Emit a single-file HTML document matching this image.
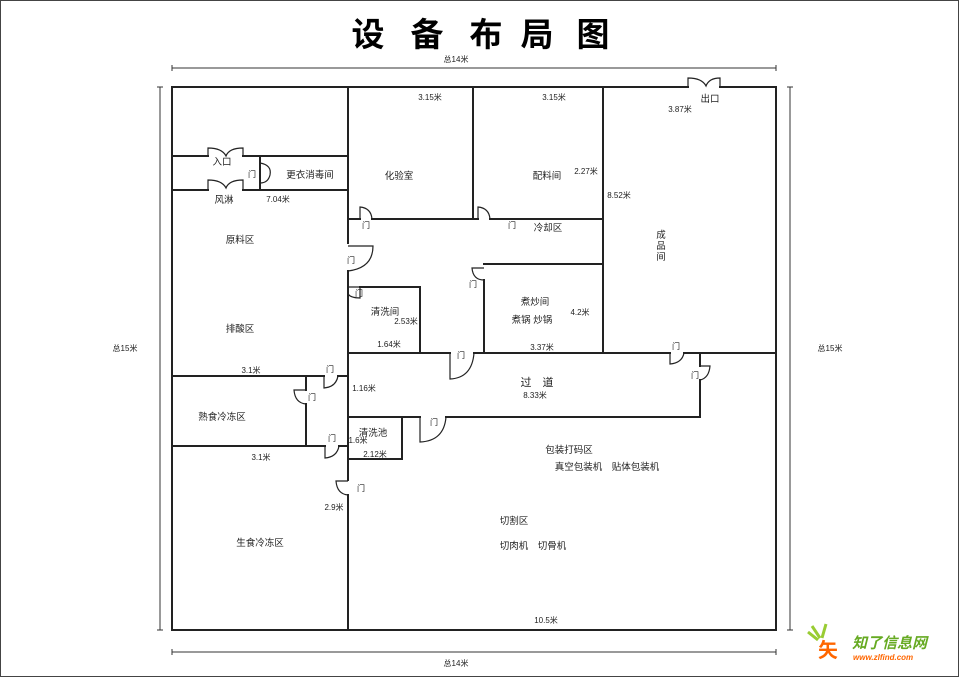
<!DOCTYPE html>
<html><head><meta charset="utf-8"><style>
html,body{margin:0;padding:0;background:#fff}
svg{display:block}
text{font-family:"Liberation Sans","Noto Sans CJK SC",sans-serif;fill:#222}
</style></head><body>
<svg width="960" height="678" viewBox="0 0 960 678" xmlns="http://www.w3.org/2000/svg">
<rect x="0.5" y="0.5" width="958" height="676" fill="#fff" stroke="#444" stroke-width="1"/>
<g font-size="33" font-weight="bold" text-anchor="middle" style="font-family:'Noto Sans CJK SC',sans-serif">
<text x="368" y="46" style="fill:#000">设</text><text x="427" y="46" style="fill:#000">备</text><text x="486" y="46" style="fill:#000">布</text><text x="537" y="46" style="fill:#000">局</text><text x="593" y="46" style="fill:#000">图</text>
</g>
<!-- dimension lines -->
<g stroke="#333" stroke-width="1" fill="none">
<line x1="172" y1="68" x2="776" y2="68"/><line x1="172" y1="65" x2="172" y2="71"/><line x1="776" y1="65" x2="776" y2="71"/>
<line x1="172" y1="652" x2="776" y2="652"/><line x1="172" y1="649" x2="172" y2="655"/><line x1="776" y1="649" x2="776" y2="655"/>
<line x1="160" y1="87" x2="160" y2="630"/><line x1="157" y1="87" x2="163" y2="87"/><line x1="157" y1="630" x2="163" y2="630"/>
<line x1="790" y1="87" x2="790" y2="630"/><line x1="787" y1="87" x2="793" y2="87"/><line x1="787" y1="630" x2="793" y2="630"/>
</g>
<g font-size="8" text-anchor="middle">
<text x="456" y="62">总14米</text><text x="456" y="666">总14米</text>
<text x="125" y="351">总15米</text><text x="830" y="351">总15米</text>
</g>
<!-- walls -->
<g stroke="#222" stroke-width="2" fill="none" stroke-linecap="square">
<path d="M172 87 H688 M720 87 H776 V630 H172 V87"/>
<path d="M172 156 H208 M243 156 H348 M172 190 H208 M243 190 H348 M260 156 V190"/>
<path d="M348 87 V243 M348 271 V353 M348 353 V480 M348 495 V630"/>
<path d="M172 376 H324 M338 376 H348 M306 376 V390 M306 404 V446 M172 446 H325 M339 446 H348"/>
<path d="M348 219 H360 M372 219 H478 M490 219 H603 M473 87 V219 M603 87 V353"/>
<path d="M360 287 H420 V353"/>
<path d="M484 264 H603 M484 280 V353"/>
<path d="M348 353 H450 M474 353 H670 M684 353 H776 M700 353 V366 M700 380 V417 H446 M420 417 H348"/>
<path d="M348 459 H402 V417"/>
</g>
<!-- doors -->
<g stroke="#222" stroke-width="1.2" fill="none">
<path d="M208 156 V148 Q222 148 226 156 Q229 148 243 148 V156"/>
<path d="M208 190 V180 Q222 180 226 188 Q229 180 243 180 V190"/>
<path d="M688 87 V78 Q702 78 706 86 Q709 78 720 78 V87"/>
<path d="M260 163 Q272 165 270 175 Q268 183 260 183"/>
<path d="M360 219 V207 Q371 208 372 219"/>
<path d="M478 219 V207 Q489 208 490 219"/>
<path d="M348 246 H373 Q373 268 348 271"/>
<path d="M360 287 H348 M360 287 V298 Q351 298 348 294"/>
<path d="M484 268 H472 Q473 280 484 280"/>
<path d="M450 353 V379 Q472 378 474 353"/>
<path d="M670 353 V364 Q682 363 684 353"/>
<path d="M700 366 H710 Q709 378 700 380"/>
<path d="M420 417 V442 Q444 441 446 417"/>
<path d="M324 376 V388 Q336 387 338 376"/>
<path d="M306 390 H294 Q295 403 306 404"/>
<path d="M325 446 V458 Q337 457 339 446"/>
<path d="M348 481 H336 Q337 494 348 495"/>
</g>
<!-- labels -->
<g font-size="9.5" text-anchor="middle">
<text x="222" y="165">入口</text><text x="310" y="178">更衣消毒间</text>
<text x="224" y="203">风淋</text>
<text x="399" y="179">化验室</text><text x="547" y="179">配料间</text>
<text x="240" y="243">原料区</text><text x="240" y="332">排酸区</text>
<text x="548" y="231">冷却区</text>
<text x="385" y="315">清洗间</text>
<text x="535" y="305">煮炒间</text><text x="532" y="323">煮锅 炒锅</text>
<text x="661" y="238">成</text><text x="661" y="249">品</text><text x="661" y="260">间</text>
<text x="710" y="102">出口</text>
<text x="222" y="420">熟食冷冻区</text>
<text x="373" y="436">清洗池</text>
<text x="537" y="386" font-size="11">过　道</text>
<text x="569" y="453">包装打码区</text><text x="607" y="470">真空包装机　贴体包装机</text>
<text x="514" y="524">切割区</text><text x="533" y="549">切肉机　切骨机</text>
<text x="260" y="546">生食冷冻区</text>
</g>
<g font-size="8" text-anchor="middle">
<text x="430" y="100">3.15米</text><text x="554" y="100">3.15米</text>
<text x="680" y="112">3.87米</text><text x="586" y="174">2.27米</text><text x="619" y="198">8.52米</text>
<text x="278" y="202">7.04米</text>
<text x="406" y="324">2.53米</text><text x="389" y="347">1.64米</text>
<text x="580" y="315">4.2米</text><text x="542" y="350">3.37米</text>
<text x="251" y="373">3.1米</text><text x="364" y="391">1.16米</text>
<text x="535" y="398">8.33米</text>
<text x="358" y="443">1.6米</text><text x="375" y="457">2.12米</text>
<text x="261" y="460">3.1米</text><text x="334" y="510">2.9米</text>
<text x="546" y="623">10.5米</text>
<text x="252" y="177">门</text>
<text x="366" y="228">门</text><text x="512" y="228">门</text>
<text x="351" y="263">门</text><text x="359" y="296">门</text><text x="473" y="287">门</text>
<text x="461" y="358">门</text><text x="676" y="349">门</text><text x="695" y="378">门</text>
<text x="434" y="425">门</text>
<text x="330" y="372">门</text><text x="312" y="400">门</text><text x="332" y="441">门</text><text x="361" y="491">门</text>
</g>
<!-- watermark -->
<g>
<path d="M808 632 L818 640 M812 626 L820 638 M826 624 L822 638" stroke="#9c3" stroke-width="3"/>
<text x="818" y="657" font-size="20" font-weight="bold" style="fill:#f60;font-family:'Noto Sans CJK SC',sans-serif">矢</text>
<text x="852" y="648" font-size="15" font-weight="bold" style="fill:#6a2;font-family:'Noto Sans CJK SC',sans-serif;font-style:italic">知了信息网</text>
<text x="853" y="660" font-size="8" font-weight="bold" style="fill:#f60;font-style:italic">www.zlfind.com</text>
</g>
</svg>
</body></html>
